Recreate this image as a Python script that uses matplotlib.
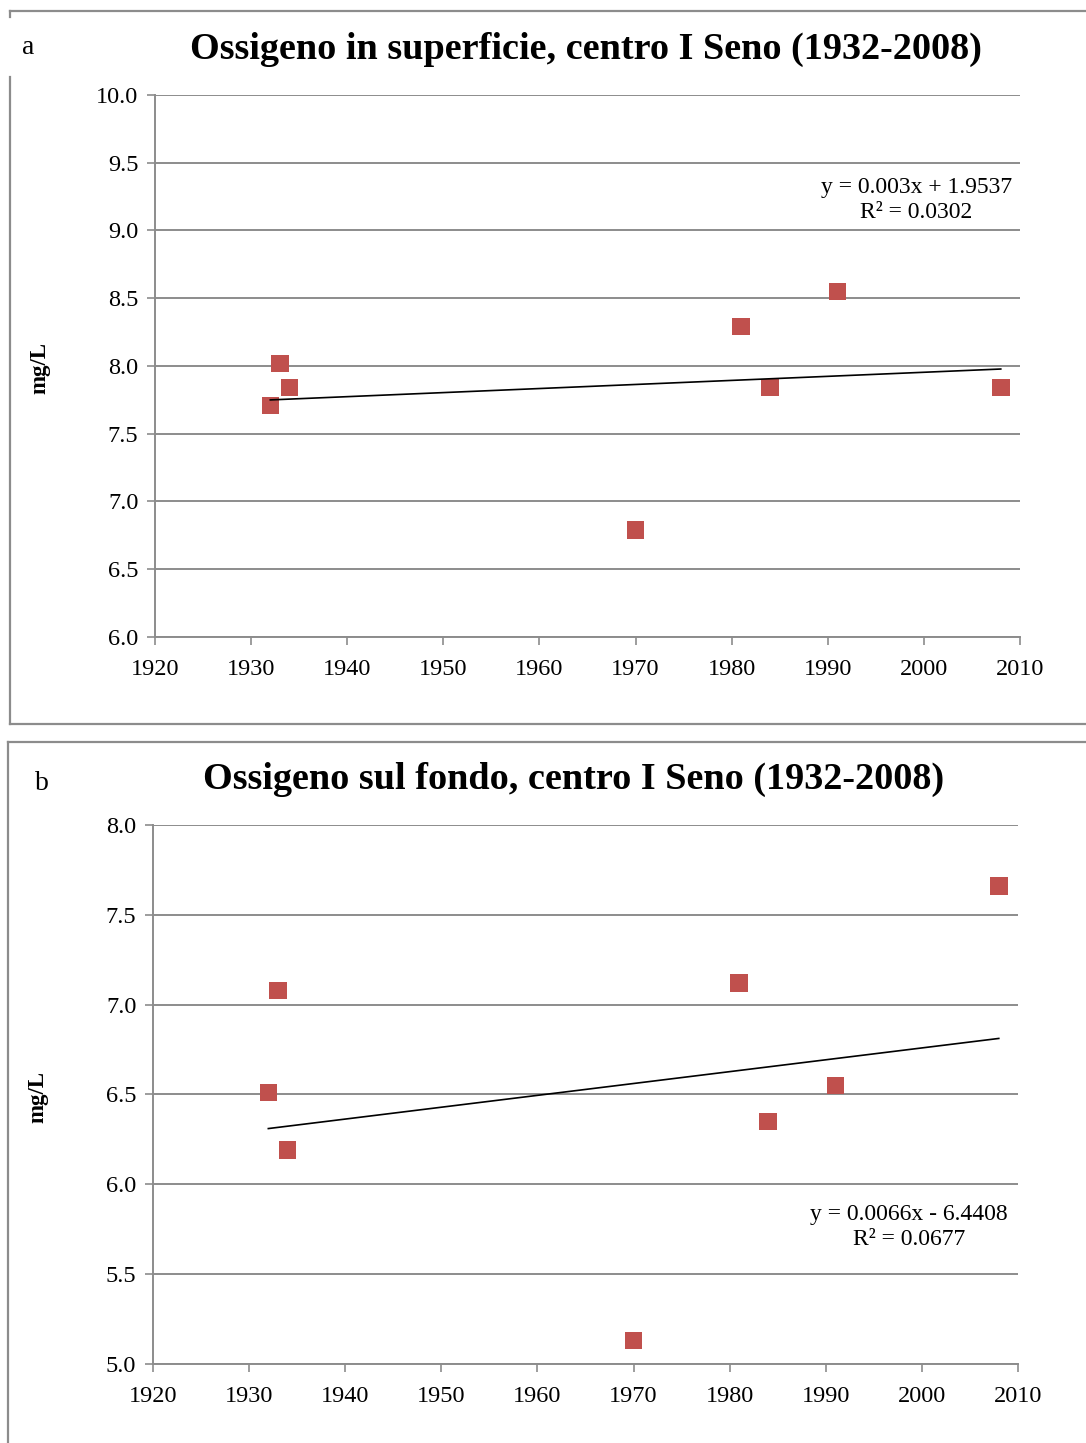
import matplotlib
matplotlib.use("Agg")
import matplotlib.pyplot as plt
from matplotlib.lines import Line2D
import numpy as np

plt.rcParams["font.family"] = ["Liberation Serif", "DejaVu Serif"]

# Sampling years (shared by both panels)
years = [1932, 1933, 1934, 1970, 1981, 1984, 1991, 2008]

# Dissolved oxygen at the surface (mg/L)
oxygen_surface = [7.71, 8.02, 7.84, 6.79, 8.29, 7.84, 8.55, 7.84]
# Dissolved oxygen at the bottom (mg/L)
oxygen_bottom = [6.51, 7.08, 6.19, 5.13, 7.12, 6.35, 6.55, 7.66]

# Linear trend coefficients (slope, intercept) and R²
trend_surface = (0.003, 1.9537, 0.0302)
trend_bottom = (0.0066, -6.4408, 0.0677)

titles = ["Ossigeno in superficie, centro I Seno (1932-2008)",
          "Ossigeno sul fondo, centro I Seno (1932-2008)"]
panel_letters = ["a", "b"]
x_ticks = list(range(1920, 2011, 10))
y_ticks_surface = [6.0, 6.5, 7.0, 7.5, 8.0, 8.5, 9.0, 9.5, 10.0]
y_ticks_bottom = [5.0, 5.5, 6.0, 6.5, 7.0, 7.5, 8.0]

W, H = 1086, 1443
fig = plt.figure(figsize=(W / 100, H / 100), dpi=100)

grid_col = "#8c8c8c"
marker_col = "#C0504D"


def fx(px):
    return px / W


def fy(py):
    return 1 - py / H


def frame_line(xs, ys):
    fig.add_artist(Line2D([fx(x) for x in xs], [fy(y) for y in ys],
                          color="#8c8c8c", lw=1.6, transform=fig.transFigure))


# Panel frames
frame_line([10, 1086], [11, 11])
frame_line([10, 10], [11, 17])
frame_line([10, 10], [77, 724])
frame_line([10, 1086], [724, 724])
frame_line([8, 1086], [742, 742])
frame_line([8, 8], [742, 1443])

panels = [
    dict(rect=(155, 95, 1020, 637), y=oxygen_surface, trend=trend_surface,
         yticks=y_ticks_surface, title=titles[0], letter=panel_letters[0],
         title_xy=(586, 49), letter_xy=(28, 47), ylab_xy=(40, 368),
         eq_xy=(1012, 200)),
    dict(rect=(153, 825, 1018, 1364), y=oxygen_bottom, trend=trend_bottom,
         yticks=y_ticks_bottom, title=titles[1], letter=panel_letters[1],
         title_xy=(574, 779), letter_xy=(42, 783), ylab_xy=(38, 1097),
         eq_xy=(1008, 1227)),
]

for p in panels:
    l, t, r, b = p["rect"]
    ax = fig.add_axes([fx(l), fy(b), fx(r) - fx(l), fy(t) - fy(b)])
    ax.set_xlim(1920, 2010)
    ax.set_ylim(p["yticks"][0], p["yticks"][-1])
    ax.set_xticks(x_ticks)
    ax.set_yticks(p["yticks"])
    ax.set_yticklabels([f"{v:.1f}" for v in p["yticks"]])
    ax.tick_params(axis="both", direction="out", length=6, width=1.2,
                   color=grid_col, labelsize=17.5, pad=6)
    ax.tick_params(axis="x", pad=10)
    for s in ["top", "right"]:
        ax.spines[s].set_visible(False)
    for s in ["left", "bottom"]:
        ax.spines[s].set_color(grid_col)
        ax.spines[s].set_linewidth(1.4)
    ax.yaxis.grid(True, color=grid_col, lw=1.4)
    ax.set_axisbelow(True)
    ax.patch.set_alpha(0)

    ax.scatter(years, p["y"], marker="s", s=160, color=marker_col,
               edgecolors="none", zorder=3, clip_on=False)

    slope, intercept, r2 = p["trend"]
    xt = np.array([min(years), max(years)])
    ax.plot(xt, slope * xt + intercept, color="black", lw=1.2, zorder=4)

    sign = "+" if intercept >= 0 else "-"
    eq = f"y = {slope:g}x {sign} {abs(intercept):.4f}\nR² = {r2:.4f}"
    fig.text(fx(p["eq_xy"][0]), fy(p["eq_xy"][1]), eq, ha="right", va="center",
             fontsize=17, multialignment="center", linespacing=1.3)

    fig.text(fx(p["title_xy"][0]), fy(p["title_xy"][1]), p["title"],
             ha="center", va="center", fontsize=27.5, fontweight="bold")
    fig.text(fx(p["letter_xy"][0]), fy(p["letter_xy"][1]), p["letter"],
             ha="center", va="center", fontsize=20)
    fig.text(fx(p["ylab_xy"][0]), fy(p["ylab_xy"][1]), "mg/L", rotation=90,
             ha="center", va="center", fontsize=16.5, fontweight="bold")

fig.savefig("out.png", dpi=100, facecolor="white")
